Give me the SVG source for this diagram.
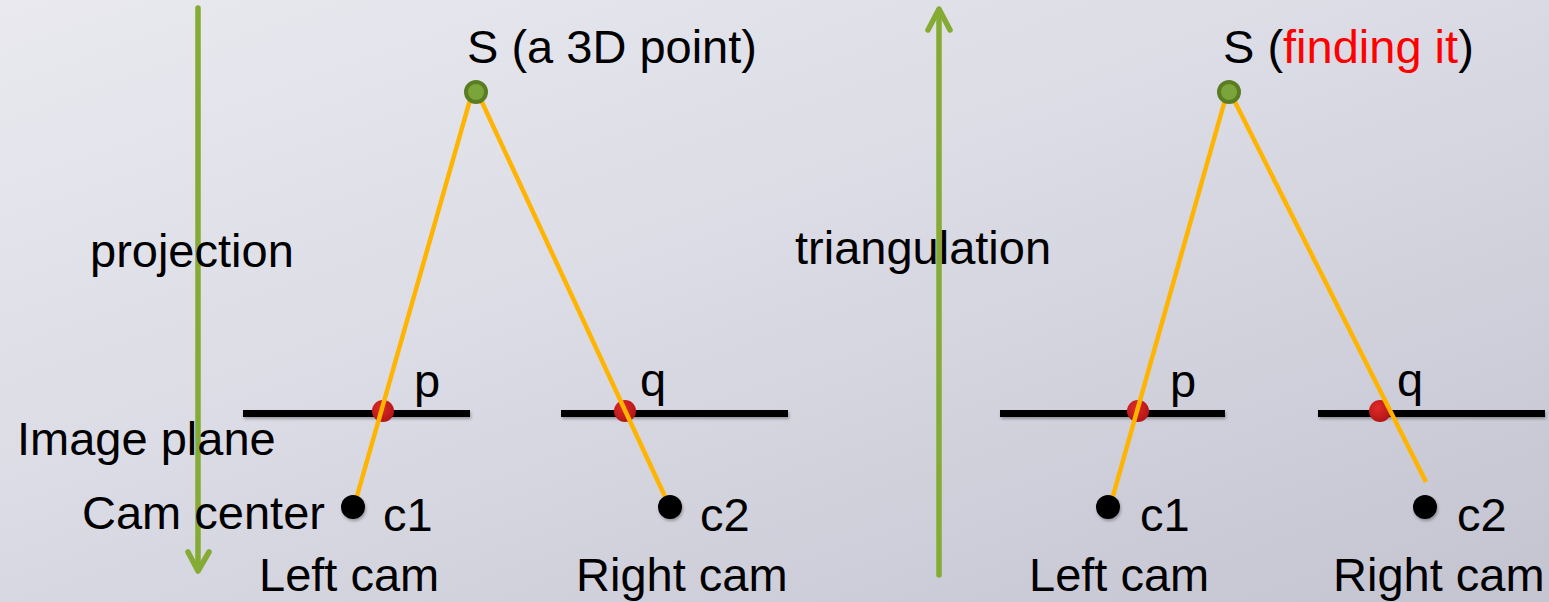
<svg xmlns="http://www.w3.org/2000/svg" width="1549" height="602" viewBox="0 0 1549 602">
<defs>
<linearGradient id="bg" x1="0" y1="0" x2="0.9" y2="1">
<stop offset="0" stop-color="#e9e9ef"/>
<stop offset="0.45" stop-color="#dcdce6"/>
<stop offset="1" stop-color="#c6c6d3"/>
</linearGradient>
<radialGradient id="red" cx="0.4" cy="0.35" r="0.7">
<stop offset="0" stop-color="#e02a2a"/>
<stop offset="1" stop-color="#b01414"/>
</radialGradient>
<filter id="sh" filterUnits="userSpaceOnUse" x="0" y="0" width="1549" height="602">
<feDropShadow dx="1" dy="2" stdDeviation="1.5" flood-color="#000" flood-opacity="0.3"/>
</filter>
</defs>
<style>
text{font-family:"Liberation Sans",Arial,sans-serif;font-size:47px;fill:#000}
.plane{fill:#000}
.ray{stroke:#ffb400;stroke-width:4.5;stroke-linecap:butt}
.arrow{stroke:#85ab35;stroke-width:5.5;fill:none;stroke-linecap:round;stroke-linejoin:round}
.pt{fill:#7ba43a;stroke:#5a7d24;stroke-width:4}
.img{fill:url(#red)}
.cam{fill:#000}
</style>
<rect width="1549" height="602" fill="url(#bg)"/>

<g id="left-plane-1"><rect class="plane" filter="url(#sh)" x="243" y="410" width="227" height="7"/></g>
<g id="left-plane-2"><rect class="plane" filter="url(#sh)" x="561" y="410" width="227" height="7"/></g>
<g id="right-plane-1"><rect class="plane" filter="url(#sh)" x="1000" y="410" width="225" height="7"/></g>
<g id="right-plane-2"><rect class="plane" filter="url(#sh)" x="1318" y="410" width="227" height="7"/></g>

<g id="left-p"><circle class="img" cx="383" cy="411" r="11"/><text x="414" y="397">p</text></g>
<g id="left-q"><circle class="img" cx="625" cy="411" r="11"/><text x="640" y="396">q</text></g>
<g id="right-p"><circle class="img" cx="1138" cy="411" r="11"/><text x="1170" y="397">p</text></g>
<g id="right-q"><circle class="img" cx="1380" cy="411" r="11"/><text x="1397" y="396">q</text></g>

<g id="connectors">
<g id="arrow-projection">
<line class="arrow" x1="198" y1="8" x2="198" y2="570"/>
<polyline class="arrow" points="188,552 198,571 209,552"/>
</g>
<g id="arrow-triangulation">
<line class="arrow" x1="939" y1="575" x2="939" y2="10"/>
<polyline class="arrow" points="928,30 939,9 950,30"/>
</g>
<line class="ray" x1="470" y1="100" x2="355" y2="503"/>
<line class="ray" x1="481" y1="100" x2="668" y2="503"/>
<line class="ray" x1="1225" y1="100" x2="1111" y2="503"/>
<line class="ray" x1="1234" y1="100" x2="1426" y2="482"/>
</g>

<g id="left-S"><circle class="pt" cx="476" cy="92" r="10"/><text x="467" y="63">S (a 3D point)</text></g>
<g id="right-S"><circle class="pt" cx="1229" cy="92" r="10"/><text x="1223" y="63">S (<tspan fill="#ff0000">finding it</tspan>)</text></g>

<g id="left-c1"><circle class="cam" filter="url(#sh)" cx="353" cy="507" r="12"/><text x="383" y="531">c1</text></g>
<g id="left-c2"><circle class="cam" filter="url(#sh)" cx="670" cy="507" r="12"/><text x="700" y="531">c2</text></g>
<g id="right-c1"><circle class="cam" filter="url(#sh)" cx="1108" cy="507" r="12"/><text x="1140" y="531">c1</text></g>
<g id="right-c2"><circle class="cam" filter="url(#sh)" cx="1425" cy="507" r="12"/><text x="1457" y="531">c2</text></g>

<g id="labels">
<text x="90" y="267">projection</text>
<text x="795" y="264">triangulation</text>
<text x="17" y="455">Image plane</text>
<text x="82" y="529">Cam center</text>
<text x="259" y="591">Left cam</text>
<text x="576" y="591">Right cam</text>
<text x="1029" y="591">Left cam</text>
<text x="1333" y="591">Right cam</text>
</g>
</svg>
